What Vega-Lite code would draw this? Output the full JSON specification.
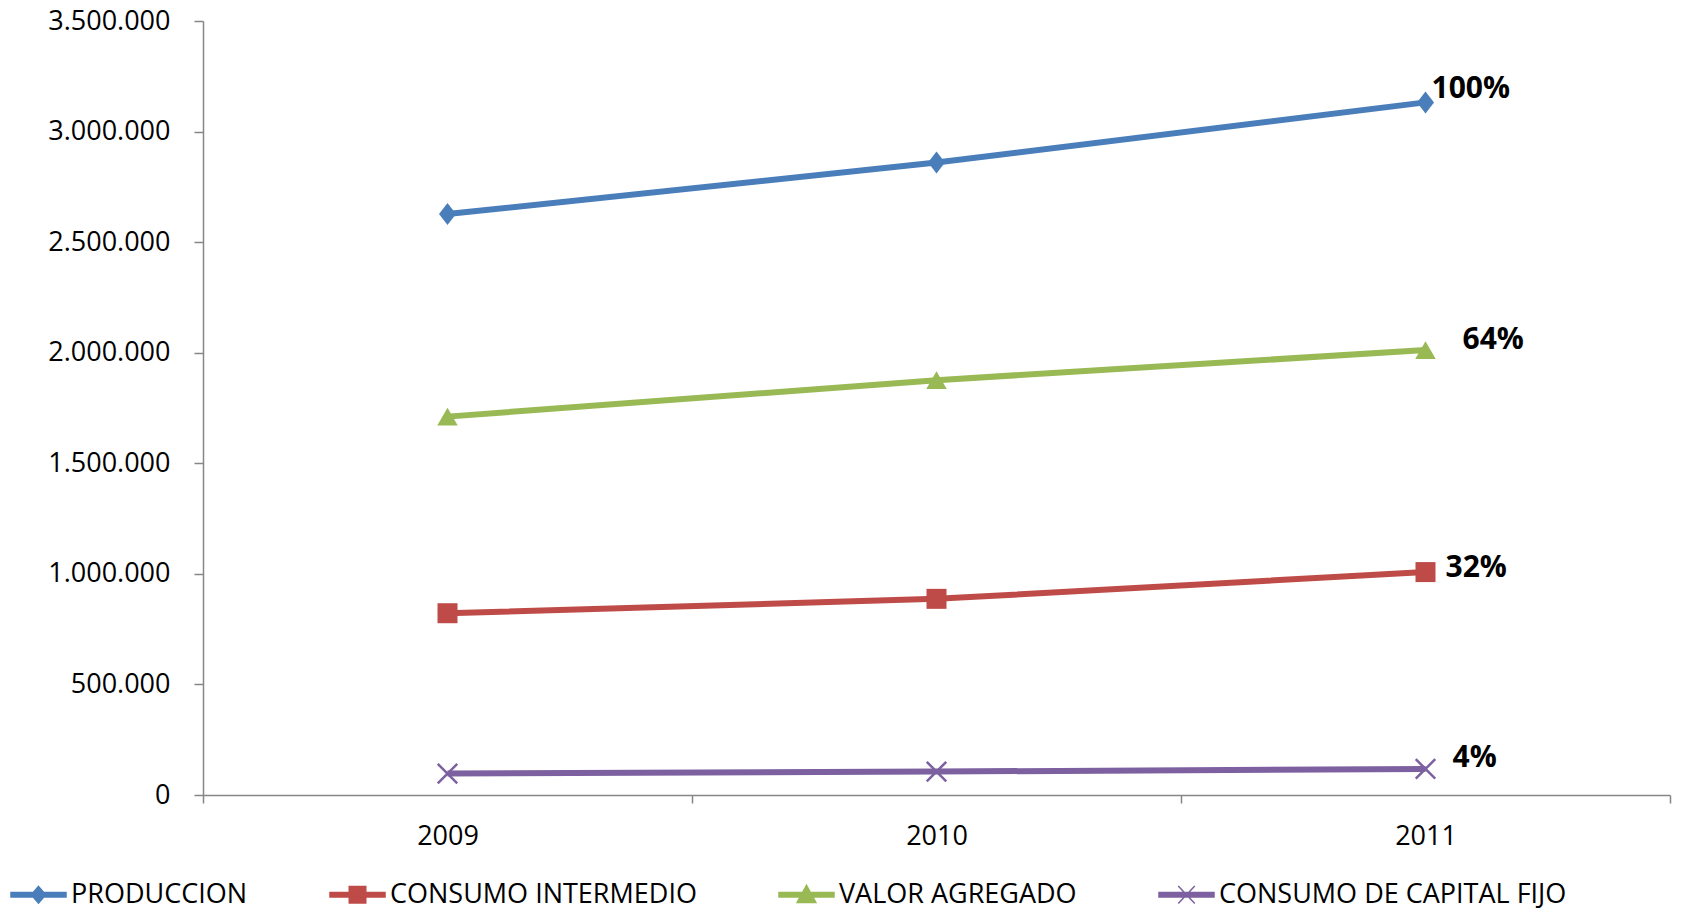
{
  "$schema": "https://vega.github.io/schema/vega-lite/v6.json",
  "width": 1467,
  "height": 774,
  "autosize": {"type": "none"},
  "padding": {"left": 203, "top": 21, "right": 11, "bottom": 115},
  "background": "white",
  "config": {
    "font": "Open Sans",
    "view": {"stroke": null},
    "axis": {
      "domainColor": "#868686",
      "tickColor": "#868686",
      "domainWidth": 1.5,
      "tickWidth": 1.5,
      "labelColor": "black",
      "labelFont": "Open Sans",
      "labelFontSize": 27,
      "grid": false,
      "title": null
    }
  },
  "data": {
    "values": [
      {"serie": "PRODUCCION", "anio": "2009", "valor": 2627000},
      {"serie": "PRODUCCION", "anio": "2010", "valor": 2860000},
      {"serie": "PRODUCCION", "anio": "2011", "valor": 3132000, "etiqueta": "100%"},
      {"serie": "CONSUMO INTERMEDIO", "anio": "2009", "valor": 822000},
      {"serie": "CONSUMO INTERMEDIO", "anio": "2010", "valor": 887000},
      {"serie": "CONSUMO INTERMEDIO", "anio": "2011", "valor": 1008000, "etiqueta": "32%"},
      {"serie": "VALOR AGREGADO", "anio": "2009", "valor": 1711000},
      {"serie": "VALOR AGREGADO", "anio": "2010", "valor": 1876000},
      {"serie": "VALOR AGREGADO", "anio": "2011", "valor": 2012000, "etiqueta": "64%"},
      {"serie": "CONSUMO DE CAPITAL FIJO", "anio": "2009", "valor": 97000},
      {"serie": "CONSUMO DE CAPITAL FIJO", "anio": "2010", "valor": 106000},
      {"serie": "CONSUMO DE CAPITAL FIJO", "anio": "2011", "valor": 118000, "etiqueta": "4%"}
    ]
  },
  "encoding": {
    "x": {
      "field": "anio",
      "type": "ordinal",
      "scale": {"type": "band", "paddingInner": 0, "paddingOuter": 0},
      "axis": {"tickBand": "extent", "tickSize": 8, "labelPadding": 20, "labelAngle": 0}
    },
    "y": {
      "field": "valor",
      "type": "quantitative",
      "scale": {"domain": [0, 3500000], "nice": false, "zero": true},
      "axis": {
        "values": [0, 500000, 1000000, 1500000, 2000000, 2500000, 3000000, 3500000],
        "tickSize": 9,
        "labelPadding": 24,
        "labelExpr": "replace(format(datum.value, ','), regexp(',', 'g'), '.')"
      }
    },
    "color": {
      "field": "serie",
      "type": "nominal",
      "scale": {
        "domain": ["PRODUCCION", "CONSUMO INTERMEDIO", "VALOR AGREGADO", "CONSUMO DE CAPITAL FIJO"],
        "range": ["#4A7EBB", "#BE4B48", "#98B954", "#7D60A0"]
      },
      "legend": {
        "orient": "none",
        "legendX": -193,
        "legendY": 845,
        "direction": "horizontal",
        "columns": 4,
        "title": null,
        "padding": 0,
        "symbolSize": 3025,
        "symbolStrokeWidth": 1.5,
        "labelFont": "Open Sans",
        "labelFontSize": 27,
        "labelColor": "black",
        "labelLimit": 800,
        "labelOffset": 4,
        "columnPadding": 79,
        "encode": {
          "symbols": {
            "update": {
              "shape": {"signal": "datum.value === 'PRODUCCION' ? 'M-1,-0.08L1,-0.08L1,0.08L-1,0.08Z M0,-0.3L0.26,0L0,0.3L-0.26,0Z' : datum.value === 'CONSUMO INTERMEDIO' ? 'M-1,-0.08L1,-0.08L1,0.08L-1,0.08Z M-0.3,-0.3L0.3,-0.3L0.3,0.3L-0.3,0.3Z' : datum.value === 'VALOR AGREGADO' ? 'M-1,-0.08L1,-0.08L1,0.08L-1,0.08Z M0,-0.34L0.34,0.28L-0.34,0.28Z' : 'M-1,-0.08L1,-0.08L1,0.08L-1,0.08Z M-0.3,-0.32L0.3,0.32M-0.3,0.32L0.3,-0.32'"},
              "fill": {"scale": "color", "field": "value"},
              "stroke": {"scale": "color", "field": "value"},
              "strokeWidth": {"value": 1.5},
              "opacity": {"value": 1},
              "fillOpacity": {"value": 1}
            }
          }
        }
      }
    }
  },
  "layer": [
    {
      "mark": {"type": "line", "strokeWidth": 6}
    },
    {
      "transform": [{"filter": "datum.serie === 'PRODUCCION'"}],
      "mark": {"type": "point", "filled": true, "opacity": 1, "shape": "M0,-1.1L0.85,0L0,1.1L-0.85,0Z", "size": 400}
    },
    {
      "transform": [{"filter": "datum.serie === 'CONSUMO INTERMEDIO'"}],
      "mark": {"type": "point", "filled": true, "opacity": 1, "shape": "square", "size": 400}
    },
    {
      "transform": [{"filter": "datum.serie === 'VALOR AGREGADO'"}],
      "mark": {"type": "point", "filled": true, "opacity": 1, "shape": "triangle-up", "size": 420}
    },
    {
      "transform": [{"filter": "datum.serie === 'CONSUMO DE CAPITAL FIJO'"}],
      "mark": {"type": "point", "filled": false, "opacity": 1, "strokeWidth": 2.5, "shape": "M-1,-1L1,1M-1,1L1,-1", "size": 380}
    },
    {
      "transform": [{"filter": "datum.serie === 'PRODUCCION' && datum.etiqueta"}],
      "mark": {"type": "text", "font": "Open Sans", "fontWeight": "bold", "fontSize": 30, "align": "left", "baseline": "middle", "dx": 6, "dy": -13},
      "encoding": {"text": {"field": "etiqueta"}, "color": {"value": "black"}}
    },
    {
      "transform": [{"filter": "datum.serie === 'VALOR AGREGADO' && datum.etiqueta"}],
      "mark": {"type": "text", "font": "Open Sans", "fontWeight": "bold", "fontSize": 30, "align": "left", "baseline": "middle", "dx": 37, "dy": -10},
      "encoding": {"text": {"field": "etiqueta"}, "color": {"value": "black"}}
    },
    {
      "transform": [{"filter": "datum.serie === 'CONSUMO INTERMEDIO' && datum.etiqueta"}],
      "mark": {"type": "text", "font": "Open Sans", "fontWeight": "bold", "fontSize": 30, "align": "left", "baseline": "middle", "dx": 20, "dy": -4},
      "encoding": {"text": {"field": "etiqueta"}, "color": {"value": "black"}}
    },
    {
      "transform": [{"filter": "datum.serie === 'CONSUMO DE CAPITAL FIJO' && datum.etiqueta"}],
      "mark": {"type": "text", "font": "Open Sans", "fontWeight": "bold", "fontSize": 30, "align": "left", "baseline": "middle", "dx": 27, "dy": -11},
      "encoding": {"text": {"field": "etiqueta"}, "color": {"value": "black"}}
    }
  ]
}
